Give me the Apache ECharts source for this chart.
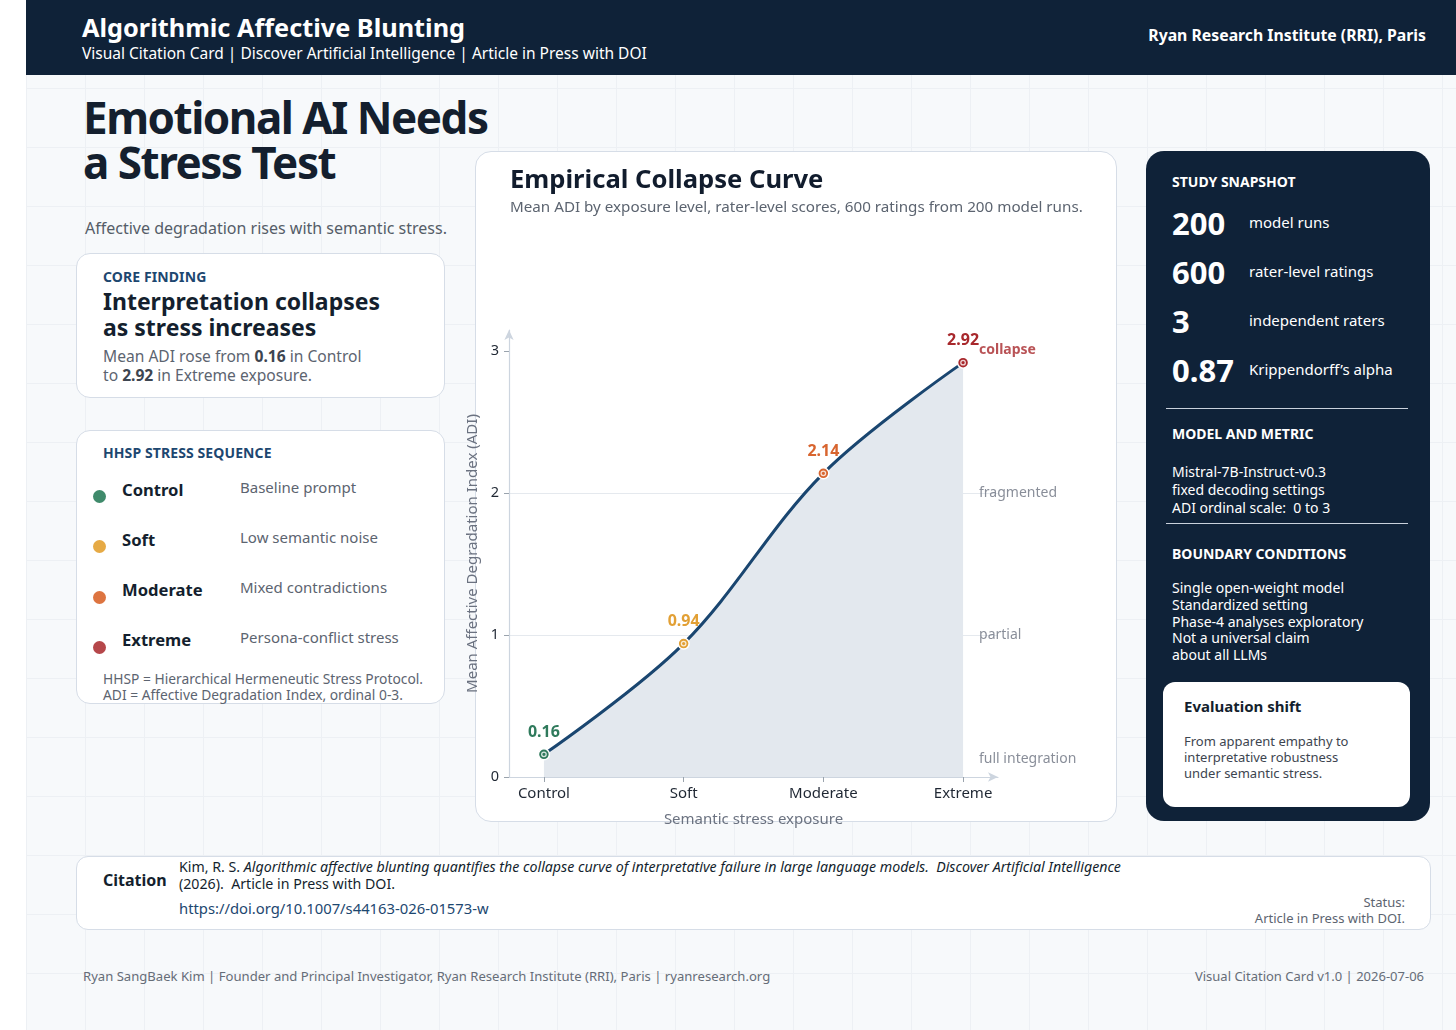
<!DOCTYPE html>
<html>
<head>
<meta charset="utf-8" />
<title>Algorithmic Affective Blunting</title>
<script src="https://cdn.jsdelivr.net/npm/echarts@6/dist/echarts.min.js"></script>
<style>
    * { margin: 0; padding: 0; box-sizing: border-box; }
    html, body { width: 1456px; height: 1030px; overflow: hidden; }
    body { font-family: "Noto Sans", sans-serif; background: #fff; position: relative; color: #141f2e; }
    #page {
        position: absolute; left: 26px; top: 0; width: 1430px; height: 1030px;
        background-color: #f7f9fb;
        background-image:
            linear-gradient(to right, #edf0f4 1px, transparent 1px),
            linear-gradient(to bottom, #edf0f4 1px, transparent 1px);
        background-size: 59px 59px;
        background-position: 0px 29px;
    }
    .abs { position: absolute; white-space: nowrap; }
    #header { position: absolute; left: 26px; top: 0; width: 1430px; height: 75px; background: #0f2238; }
    .card { position: absolute; background: #fff; border: 1.5px solid #d6dde7; border-radius: 14px; }
    .kicker { font-size: 14px; font-weight: 700; color: #1d4770; letter-spacing: 0.1px; }
    .dot { position: absolute; width: 13px; height: 13px; border-radius: 50%; }
    .rname { font-size: 16.6px; font-weight: 700; color: #141f2e; }
    .rdesc { font-size: 15px; color: #5c6470; }
    #side { position: absolute; left: 1146px; top: 151px; width: 284px; height: 670px; background: #0f2238; border-radius: 18px; color: #fff; }
    .num { font-size: 31px; font-weight: 700; }
    .slabel { font-size: 15px; }
    .shead { font-size: 14px; font-weight: 700; }
    .sbody { font-size: 14px; line-height: 18px; }
    .rule { position: absolute; left: 20px; width: 242px; height: 1px; background: #c9d1dc; }
</style>
</head>
<body>
<div id="page"></div>
<div id="header">
    <div class="abs" style="left:56px;top:10px;font-size:25.3px;font-weight:700;color:#fff;">Algorithmic Affective Blunting</div>
    <div class="abs" style="left:56px;top:42px;font-size:15.5px;color:#fff;">Visual Citation Card | Discover Artificial Intelligence | Article in Press with DOI</div>
    <div class="abs" style="right:30px;top:24px;font-size:15.8px;font-weight:700;color:#fff;">Ryan Research Institute (RRI), Paris</div>
</div>

<div class="abs" style="left:83px;top:95px;font-size:44px;line-height:45px;font-weight:700;letter-spacing:-1.5px;color:#141f2e;">Emotional AI Needs<br>a Stress Test</div>
<div class="abs" style="left:85px;top:217px;font-size:16px;color:#555d68;">Affective degradation rises with semantic stress.</div>

<div class="card" style="left:76px;top:253px;width:369px;height:145px;">
    <div class="abs kicker" style="left:26px;top:13px;">CORE FINDING</div>
    <div class="abs" style="left:26px;top:34px;font-size:23px;line-height:26px;font-weight:700;color:#141f2e;">Interpretation collapses<br>as stress increases</div>
    <div class="abs" style="left:26px;top:93px;font-size:15.6px;line-height:19px;color:#5c6470;">Mean ADI rose from <b style="color:#3d4550">0.16</b> in Control<br>to <b style="color:#3d4550">2.92</b> in Extreme exposure.</div>
</div>

<div class="card" style="left:76px;top:430px;width:369px;height:274px;" id="seqCard">
    <div class="abs kicker" style="left:26px;top:12px;">HHSP STRESS SEQUENCE</div>
    <div class="abs" style="left:26px;top:240px;font-size:13.8px;line-height:15.5px;color:#5c6470;">HHSP = Hierarchical Hermeneutic Stress Protocol.<br>ADI = Affective Degradation Index, ordinal 0-3.</div>
</div>

<div class="card" style="left:475px;top:151px;width:642px;height:671px;border-radius:16px;"></div>
<div id="chart" style="position:absolute;left:455px;top:151px;width:680px;height:700px;"></div>

<div id="side">
    <div class="abs shead" style="left:26px;top:21px;">STUDY SNAPSHOT</div>
    <div id="stats"></div>
    <div class="rule" style="top:257px;"></div>
    <div class="abs shead" style="left:26px;top:273px;">MODEL AND METRIC</div>
    <div class="abs sbody" style="left:26px;top:312px;">Mistral-7B-Instruct-v0.3<br>fixed decoding settings<br>ADI ordinal scale:&nbsp; 0 to 3</div>
    <div class="rule" style="top:372px;"></div>
    <div class="abs shead" style="left:26px;top:393px;">BOUNDARY CONDITIONS</div>
    <div class="abs sbody" style="left:26px;top:429px;line-height:16.8px;">Single open-weight model<br>Standardized setting<br>Phase-4 analyses exploratory<br>Not a universal claim<br>about all LLMs</div>
    <div style="position:absolute;left:17px;top:531px;width:247px;height:125px;background:#fff;border-radius:12px;color:#141f2e;">
        <div class="abs" style="left:21px;top:14px;font-size:15px;font-weight:700;">Evaluation shift</div>
        <div class="abs" style="left:21px;top:51px;font-size:13px;line-height:16px;color:#3d4550;">From apparent empathy to<br>interpretative robustness<br>under semantic stress.</div>
    </div>
</div>

<div class="card" style="left:76px;top:856px;width:1355px;height:74px;border-radius:12px;">
    <div class="abs" style="left:26px;top:12px;font-size:16px;font-weight:700;color:#141f2e;">Citation</div>
    <div class="abs" style="left:102px;top:1px;font-size:14.2px;line-height:17px;color:#141f2e;">Kim, R. S. <i>Algorithmic affective blunting quantifies the collapse curve of interpretative failure in large language models.&nbsp; Discover Artificial Intelligence</i><br>(2026).&nbsp; Article in Press with DOI.</div>
    <div class="abs" style="left:102px;top:41px;font-size:14.8px;color:#1d4770;">https://doi.org/10.1007/s44163-026-01573-w</div>
    <div class="abs" style="right:25px;top:38px;font-size:13px;line-height:15.5px;color:#5c6470;text-align:right;">Status:<br>Article in Press with DOI.</div>
</div>

<div class="abs" style="left:83px;top:967px;font-size:13.1px;color:#666d78;">Ryan SangBaek Kim | Founder and Principal Investigator, Ryan Research Institute (RRI), Paris | ryanresearch.org</div>
<div class="abs" style="right:32px;top:967px;font-size:13px;color:#666d78;">Visual Citation Card v1.0 | 2026-07-06</div>

<script type="text/javascript">
    // data
    var levels = ['Control', 'Soft', 'Moderate', 'Extreme'];
    var levelDesc = ['Baseline prompt', 'Low semantic noise', 'Mixed contradictions', 'Persona-conflict stress'];
    var meanADI = [0.16, 0.94, 2.14, 2.92];
    var levelColors = ['#2f7a5c', '#e2a035', '#d8652f', '#a8282c'];
    var dotColors = ['#3f8a6b', '#e6aa45', '#dd7440', '#b5474a'];
    var ordinalNames = ['full integration', 'partial', 'fragmented', 'collapse'];
    var ordinalValues = [0, 1, 2, 3];
    var statValues = ['200', '600', '3', '0.87'];
    var statLabels = ['model runs', 'rater-level ratings', 'independent raters', 'Krippendorff\u2019s alpha'];

    // left sequence list
    var seqCard = document.getElementById('seqCard');
    levels.forEach(function (name, i) {
        var y = 46.5 + i * 50.3;
        var d = document.createElement('div');
        d.className = 'dot';
        d.style.left = '16px';
        d.style.top = (y + 12.5) + 'px';
        d.style.background = dotColors[i];
        seqCard.appendChild(d);
        var n = document.createElement('div');
        n.className = 'abs rname';
        n.style.left = '45px';
        n.style.top = y + 'px';
        n.textContent = name;
        seqCard.appendChild(n);
        var t = document.createElement('div');
        t.className = 'abs rdesc';
        t.style.left = '163px';
        t.style.top = (y - 1) + 'px';
        t.textContent = levelDesc[i];
        seqCard.appendChild(t);
    });

    // study snapshot stats
    var stats = document.getElementById('stats');
    statValues.forEach(function (v, i) {
        var y = 51 + i * 49;
        var a = document.createElement('div');
        a.className = 'abs num';
        a.style.left = '26px';
        a.style.top = y + 'px';
        a.textContent = v;
        stats.appendChild(a);
        var b = document.createElement('div');
        b.className = 'abs slabel';
        b.style.left = '103px';
        b.style.top = (y + 10) + 'px';
        b.textContent = statLabels[i];
        stats.appendChild(b);
    });

    var myChart = echarts.init(document.getElementById('chart'));
    var option = {
        animation: false,
        textStyle: { fontFamily: 'Noto Sans' },
        title: {
            text: 'Empirical Collapse Curve',
            subtext: 'Mean ADI by exposure level, rater-level scores, 600 ratings from 200 model runs.',
            left: 50,
            top: 12,
            itemGap: 6,
            textStyle: { fontSize: 25.6, fontWeight: 'bold', color: '#111c2d' },
            subtextStyle: { fontSize: 15.2, color: '#5c6470' }
        },
        grid: { left: 54, right: 137, top: 179, bottom: 74, outerBoundsMode: 'none', containLabel: false },
        xAxis: {
            type: 'value',
            min: -0.25,
            max: 3.25,
            name: 'Semantic stress exposure',
            nameLocation: 'middle',
            nameGap: 35,
            nameTextStyle: { fontSize: 15, color: '#6b7280' },
            axisLine: { show: true, onZero: false, symbol: ['none', 'arrow'], symbolSize: [7, 10], lineStyle: { color: '#cdd5df', width: 1.2 } },
            axisTick: { show: true, length: 5, customValues: [0, 1, 2, 3], lineStyle: { color: '#9aa3ad' } },
            axisLabel: {
                customValues: [0, 1, 2, 3],
                fontSize: 15, color: '#1f2733', margin: 9,
                formatter: function (v) { return levels[Math.round(v)] || ''; }
            },
            splitLine: { show: false }
        },
        yAxis: {
            type: 'value',
            min: 0,
            max: 3.15,
            name: 'Mean Affective Degradation Index (ADI)',
            nameLocation: 'middle',
            nameGap: 24,
            nameTextStyle: { fontSize: 15, color: '#6b7280' },
            axisLine: { show: true, onZero: false, symbol: ['none', 'arrow'], symbolSize: [7, 10], lineStyle: { color: '#cdd5df', width: 1.2 } },
            axisTick: { show: true, length: 5, customValues: [0, 1, 2, 3], lineStyle: { color: '#9aa3ad' } },
            axisLabel: { customValues: [0, 1, 2, 3], fontSize: 14.5, color: '#1f2733', margin: 10 },
            splitLine: { show: true, showMinLine: false, showMaxLine: false, lineStyle: { color: '#e5e9ee', width: 1 } }
        },
        series: [
            {
                name: 'Mean ADI',
                type: 'line',
                smooth: 0.35,
                data: meanADI.map(function (v, i) {
                    return {
                        value: [i, v],
                        itemStyle: { color: levelColors[i], borderColor: '#fff', borderWidth: 1.5 },
                        label: { color: levelColors[i] }
                    };
                }),
                symbol: 'circle',
                symbolSize: 11,
                lineStyle: { color: '#1a4670', width: 3 },
                areaStyle: { color: '#e3e8ee', opacity: 1 },
                label: {
                    show: true, position: 'top', distance: 8,
                    fontSize: 16, fontWeight: 'bold',
                    formatter: function (p) { return p.value[1].toFixed(2); }
                },
                z: 3
            },
            {
                name: 'center',
                type: 'scatter',
                data: meanADI.map(function (v, i) { return { value: [i, v], itemStyle: { color: levelColors[i] } }; }),
                symbolSize: 4.5,
                itemStyle: { borderColor: '#fff', borderWidth: 1.3 },
                silent: true,
                z: 4
            },
            {
                name: 'ordinal',
                type: 'scatter',
                symbolSize: 0,
                silent: true,
                data: ordinalValues.map(function (v, i) {
                    var last = i === ordinalValues.length - 1;
                    return {
                        value: [3.1, v],
                        label: {
                            show: true, position: 'right', distance: 2,
                            offset: i === 0 ? [0, -18] : (last ? [0, -1] : [0, 0]),
                            fontSize: 14,
                            fontWeight: last ? 'bold' : 'normal',
                            color: last ? '#a8282c' : '#6b7280',
                            formatter: ordinalNames[i]
                        }
                    };
                })
            }
        ]
    };
    myChart.setOption(option);
</script>
</body>
</html>
